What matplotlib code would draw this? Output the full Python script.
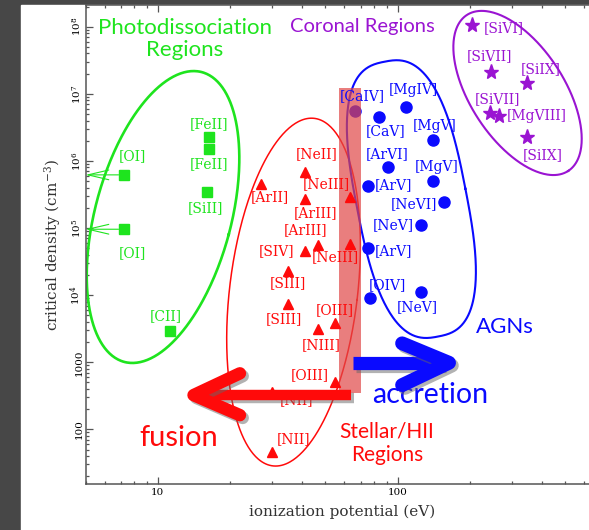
import numpy as np
import matplotlib.pyplot as plt
import matplotlib.patheffects as pe
from matplotlib.patches import Rectangle
from matplotlib.ticker import FixedLocator, FixedFormatter, LogLocator, NullFormatter

# photodissociation regions (squares)
pdr_names = ['[OI]', '[OI]', '[FeII]', '[FeII]', '[SiII]', '[CII]']
pdr_ip = [7.24, 7.24, 16.3, 16.3, 16.0, 11.3]
pdr_ncrit = [6.2e5, 9.6e4, 2.25e6, 1.52e6, 3.44e5, 2950]

# stellar / HII regions (triangles)
hii_names = ['[NeII]', '[NeIII]', '[ArII]', '[ArIII]', '[ArIII]', '[SIV]', '[NeIII]',
             '[SIII]', '[SIII]', '[OIII]', '[NIII]', '[OIII]', '[NII]', '[NII]']
hii_ip = [41.1, 63.3, 26.9, 41.1, 46.7, 41.1, 63.3, 35.0, 35.0, 54.8, 46.7, 54.8, 30.0, 30.0]
hii_ncrit = [6.9e5, 2.87e5, 4.48e5, 2.71e5, 5.58e4, 4.54e4, 5.78e4, 2.29e4, 7290,
             3800, 3090, 512, 360, 46.4]

# AGN lines (circles)
agn_names = ['[CaIV]', '[MgIV]', '[CaV]', '[MgV]', '[ArVI]', '[MgV]', '[ArV]',
             '[NeVI]', '[NeV]', '[ArV]', '[OIV]', '[NeV]']
agn_ip = [66.4, 108.3, 83.8, 139.9, 90.9, 139.9, 75.0, 156.4, 124.7, 75.0, 76.6, 125.5]
agn_ncrit = [5.6e6, 6.42e6, 4.47e6, 2.05e6, 8.03e5, 5.07e5, 4.23e5, 2.47e5, 1.11e5,
             4.98e4, 8960, 1.10e4]

# coronal lines (stars)
cor_names = ['[SiVI]', '[SiVII]', '[SiIX]', '[SiVII]', '[MgVIII]', '[SiIX]']
cor_ip = [203.4, 244.1, 346.7, 242.5, 265.1, 346.7]
cor_ncrit = [1.06e8, 2.09e7, 1.46e7, 5.23e6, 4.67e6, 2.3e6]

# label offsets in pixels (dx right, dy up)
pdr_off = [(8, 19), (8, -24), (0, 13), (0, -15), (-1, -16), (-5, 15)]
hii_off = [(12, 18), (-24, 13), (9, -13), (11, -14), (-13, 15), (-28, 0), (-15, -13),
           (0, -12), (-4, -15), (0, 13), (3, -16), (-25, 7), (24, -8), (21, 13)]
agn_off = [(7, 15), (7, 17), (6, -14), (2, 14), (-1, 13), (4, 14), (26, 1),
           (-30, -2), (-27, 0), (26, -3), (17, 13), (-4, -15)]
cor_off = [(32, -3), (-1, 16), (13, 14), (7, 14), (37, 0), (15, -18)]

GREEN = '#1ee41e'
RED = '#ff0a0a'
BLUE = '#0a0aff'
PURPLE = '#9a14d2'

XMIN, XMAX = 5.0, 1000.0
YMIN, YMAX = 15.35, 2.085e8

plt.rcParams['mathtext.fontset'] = 'dejavuserif'

fig = plt.figure(figsize=(5.89, 5.30), dpi=100)
fig.patch.set_facecolor('#474747')
fig.patches.append(Rectangle((21 / 589, 0), 1, 525 / 530, transform=fig.transFigure,
                             color='white', zorder=-10))

ax = fig.add_axes([85.5 / 589, 46 / 530, 552.2 / 589, 478.7 / 530])
ax.set_facecolor('white')
ax.set_xscale('log')
ax.set_yscale('log')
ax.set_xlim(XMIN, XMAX)
ax.set_ylim(YMIN, YMAX)

# pixels per decade, used to draw the region outlines
kx = 552.2 / np.log10(XMAX / XMIN)
ky = 478.7 / np.log10(YMAX / YMIN)


def outline(cx, cy, a, b, ang, color, lw, n=2.0):
    t = np.linspace(0, 2 * np.pi, 400)
    c, s = np.cos(t), np.sin(t)
    u = a * np.sign(c) * np.abs(c) ** (2 / n)
    v = b * np.sign(s) * np.abs(s) ** (2 / n)
    th = np.radians(ang)
    ex = u * np.cos(th) - v * np.sin(th)
    ey = u * np.sin(th) + v * np.cos(th)
    ax.plot(cx * 10 ** (ex / kx), cy * 10 ** (ey / ky), color=color, lw=lw, zorder=2)


outline(10.52, 1.46e5, 68, 150, -15, GREEN, 1.9)
outline(36.8, 1.11e4, 64, 175, -6.8, RED, 1.1)
outline(114, 2.7e5, 55, 140, 11, BLUE, 1.5, n=2.7)
outline(315.7, 1.03e7, 93, 47, -57, PURPLE, 1.5)

# translucent band between stellar and AGN ionization
ax.fill_between([57.1, 70.1], 344, 1.21e7, color='#e04848', alpha=0.7, lw=0, zorder=3)

lab = dict(fontsize=10, family='DejaVu Serif', ha='center', va='center',
           textcoords='offset pixels', zorder=5)

ax.plot(pdr_ip, pdr_ncrit, 's', color=GREEN, ms=7.2, zorder=4)
for n, x, y, o in zip(pdr_names, pdr_ip, pdr_ncrit, pdr_off):
    ax.annotate(n, (x, y), xytext=o, color=GREEN, **lab)
for y in pdr_ncrit[:2]:
    ax.annotate('', xy=(XMIN, y), xytext=(pdr_ip[0], y),
                arrowprops=dict(arrowstyle='->,head_length=1.5,head_width=0.35',
                                color=GREEN, lw=0.8, shrinkA=4, shrinkB=0))

ax.plot(hii_ip, hii_ncrit, '^', color=RED, ms=7.5, zorder=4)
for n, x, y, o in zip(hii_names, hii_ip, hii_ncrit, hii_off):
    ax.annotate(n, (x, y), xytext=o, color=RED, **lab)

ax.plot(agn_ip, agn_ncrit, 'o', color=BLUE, ms=8, zorder=2.5)
for n, x, y, o in zip(agn_names, agn_ip, agn_ncrit, agn_off):
    ax.annotate(n, (x, y), xytext=o, color=BLUE, **lab)

ax.plot(cor_ip, cor_ncrit, '*', color=PURPLE, ms=11, zorder=4)
for n, x, y, o in zip(cor_names, cor_ip, cor_ncrit, cor_off):
    ax.annotate(n, (x, y), xytext=o, color=PURPLE, **lab)

# fusion / accretion arrows
shadow = [pe.SimpleLineShadow(offset=(2, -2), shadow_color='0.4', alpha=0.5), pe.Normal()]
kw = dict(solid_capstyle='round', zorder=6, path_effects=shadow)
ax.plot([63.9, 15.0], [324, 324], color=RED, lw=7.5, solid_capstyle='butt', zorder=6,
        path_effects=shadow)
ax.plot([22.0, 14.1, 22.0], [684, 324, 163], color=RED, lw=9, **kw)
ax.plot([65.1, 155], [983, 983], color=BLUE, lw=9.5, solid_capstyle='butt', zorder=6,
        path_effects=shadow)
ax.plot([104.3, 163.6, 104.3], [1914, 983, 457], color=BLUE, lw=10, **kw)

txt = dict(family='Lato', transform=ax.transAxes, ha='center', va='center')
ax.text(0.180, 0.929, 'Photodissociation\nRegions', color=GREEN, fontsize=16,
        linespacing=1.1, **txt)
ax.text(0.501, 0.955, 'Coronal Regions', color=PURPLE, fontsize=14.5, **txt)
ax.text(0.760, 0.328, 'AGNs', color=BLUE, fontsize=16, **txt)
ax.text(0.624, 0.186, 'accretion', color=BLUE, fontsize=20.5, **txt)
ax.text(0.168, 0.0955, 'fusion', color=RED, fontsize=21, **txt)
ax.text(0.546, 0.0856, 'Stellar/HII\nRegions', color=RED, fontsize=15, linespacing=1.2,
        **txt)

# axes styling
ax.xaxis.set_major_locator(FixedLocator([10, 100]))
ax.xaxis.set_major_formatter(FixedFormatter(['10', '100']))
ax.xaxis.set_minor_locator(LogLocator(subs=np.arange(2, 10)))
ax.xaxis.set_minor_formatter(NullFormatter())
yt = [100, 1e3, 1e4, 1e5, 1e6, 1e7, 1e8]
ax.yaxis.set_major_locator(FixedLocator(yt))
ax.yaxis.set_major_formatter(FixedFormatter(['100', '1000', '$10^4$', '$10^5$',
                                             '$10^6$', '$10^7$', '$10^8$']))
ax.yaxis.set_minor_locator(LogLocator(subs=np.arange(2, 10)))
ax.yaxis.set_minor_formatter(NullFormatter())
ax.tick_params(which='both', direction='in', top=True, right=True, color='#555555',
               width=0.9)
ax.tick_params(which='major', length=5)
ax.tick_params(which='minor', length=2.5)
ax.tick_params(axis='x', labelsize=7.5, pad=3)
ax.tick_params(axis='y', labelsize=7.5, pad=1.5, labelrotation=90)
for lbl in ax.get_xticklabels() + ax.get_yticklabels():
    lbl.set_family('DejaVu Serif')
for lbl in ax.get_yticklabels():
    lbl.set_va('center')
for sp in ax.spines.values():
    sp.set_color('#555555')
    sp.set_linewidth(1.1)

ax.set_xlabel('ionization potential (eV)', family='DejaVu Serif', fontsize=11,
              color='#333333')
ax.set_ylabel('critical density (cm$^{-3}$)', family='DejaVu Serif', fontsize=11,
              color='#333333')
ax.xaxis.set_label_coords(0.4645, -0.044)
ax.yaxis.set_label_coords(-0.040, 0.5)

fig.savefig('out.png', dpi=100, facecolor=fig.get_facecolor())
